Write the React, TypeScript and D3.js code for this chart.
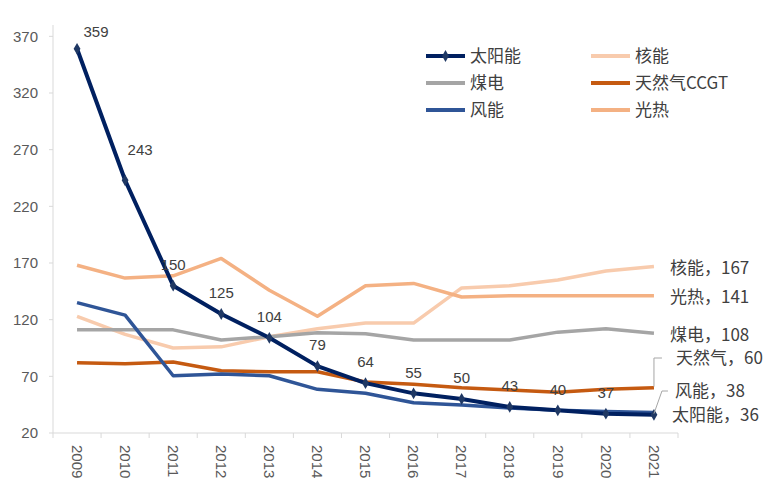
import React from "react";
import * as d3 from "d3";

const years = ["2009","2010","2011","2012","2013","2014","2015","2016","2017","2018","2019","2020","2021"];
const solar = [359, 243, 150, 125, 104, 79, 64, 55, 50, 43, 40, 37, 36];
const nuclear = [123, 107, 95, 96, 105, 112, 117, 117, 148, 150, 155, 163, 167];
const coal = [111, 111, 111, 102, 105, 108.5, 107.6, 102, 102, 102, 109, 112, 108];
const gas = [82, 81, 82.6, 75, 74, 74, 65, 63, 60, 58, 56, 58.5, 60];
const wind = [135, 124, 70.5, 72, 70.5, 58.5, 55, 46.7, 44.7, 42, 40, 39, 38];
const csp = [168, 156.7, 158.7, 174, 146, 123, 150, 152, 140, 141, 141, 141, 141];
const yTicks = [20, 70, 120, 170, 220, 270, 320, 370];

const seriesNames = ["太阳能", "核能", "煤电", "天然气CCGT", "风能", "光热"];
const endLabels = ["太阳能，36", "核能，167", "煤电，108", "天然气，60", "风能，38", "光热，141"];

const W = 783, H = 500;
const x = d3.scaleBand<string>().domain(years).range([53, 678]).padding(0);
const y = d3.scaleLinear().domain([20, 380]).range([433, 25]);
const cx = (yr: string) => (x(yr) as number) + x.bandwidth() / 2;

const series = [
  { name: seriesNames[1], data: nuclear, color: "#F8CBAD", w: 3.5 },
  { name: seriesNames[2], data: coal, color: "#A5A5A5", w: 3.5 },
  { name: seriesNames[3], data: gas, color: "#C55A11", w: 3.5 },
  { name: seriesNames[4], data: wind, color: "#2F5597", w: 3.5 },
  { name: seriesNames[5], data: csp, color: "#F4B183", w: 3.5 },
  { name: seriesNames[0], data: solar, color: "#002060", w: 4 },
];

const legendItems = [
  { name: seriesNames[0], color: "#002060", marker: true },
  { name: seriesNames[1], color: "#F8CBAD" },
  { name: seriesNames[2], color: "#A5A5A5" },
  { name: seriesNames[3], color: "#C55A11" },
  { name: seriesNames[4], color: "#2F5597" },
  { name: seriesNames[5], color: "#F4B183" },
];

const numFont = "'Liberation Sans', Arial, sans-serif";
const cjkFont = "'Noto Sans CJK SC', sans-serif";

export default function App() {
  const line = d3
    .line<number>()
    .x((_, i) => cx(years[i]))
    .y((d) => y(d));
  const last = years[years.length - 1];
  const lx = cx(last);
  const diamond = d3.symbol().type(d3.symbolDiamond).size(40)();

  const labelOffsets = solar.map((_, i) => (i === 0 ? [19, -17] : i === 1 ? [15, -31] : [0, -21]));

  return (
    <div style={{ position: "fixed", left: 0, top: 0 }}>
      <svg width={W} height={H} style={{ display: "block", background: "#fff" }}>
        {/* axes */}
        <line x1={53} x2={53} y1={25} y2={433} stroke="#D9D9D9" strokeWidth={1} />
        <line x1={53} x2={678} y1={433} y2={433} stroke="#D9D9D9" strokeWidth={1} />
        {yTicks.map((t) => (
          <g key={t}>
            <line x1={49} x2={53} y1={y(t)} y2={y(t)} stroke="#D9D9D9" />
            <text x={38} y={y(t)} dy="0.35em" textAnchor="end" fontFamily={numFont} fontSize={15} fill="#595959">
              {t}
            </text>
          </g>
        ))}
        {years.map((yr) => (
          <line key={"t" + yr} x1={x(yr) as number} x2={x(yr) as number} y1={433} y2={438} stroke="#D9D9D9" />
        ))}
        <line x1={678} x2={678} y1={433} y2={438} stroke="#D9D9D9" />
        {years.map((yr) => (
          <text
            key={"l" + yr}
            transform={`translate(${cx(yr)},445) rotate(90)`}
            dy="0.35em"
            textAnchor="start"
            fontFamily={numFont}
            fontSize={15}
            fill="#595959"
          >
            {yr}
          </text>
        ))}

        {/* lines */}
        {series.map((s) => (
          <path key={s.name} d={line(s.data) as string} fill="none" stroke={s.color} strokeWidth={s.w} strokeLinejoin="round" />
        ))}
        {solar.map((v, i) => (
          <path key={"m" + i} d={diamond as string} transform={`translate(${cx(years[i])},${y(v)})`} fill="#1F3864" />
        ))}
        {solar.map((v, i) => (
          <text
            key={"dl" + i}
            x={cx(years[i]) + labelOffsets[i][0]}
            y={y(v) + labelOffsets[i][1]}
            dy="0.35em"
            textAnchor="middle"
            fontFamily={numFont}
            fontSize={15}
            fill="#404040"
            style={{ display: i === years.length - 1 ? "none" : undefined }}
          >
            {v}
          </text>
        ))}

        {/* leader lines */}
        <polyline points={`${lx},${y(gas[12]) - 1} ${lx},${358} ${lx + 8},${358}`} fill="none" stroke="#A6A6A6" strokeWidth={1} />
        <polyline points={`${lx},${y(wind[12]) + 1} ${lx + 8},${391} ${lx + 14},${391}`} fill="none" stroke="#A6A6A6" strokeWidth={1} />

        {/* end labels */}
        {[
          { t: endLabels[1], x: 670, y: 268 },
          { t: endLabels[5], x: 670, y: 297 },
          { t: endLabels[2], x: 670, y: 335 },
          { t: endLabels[3], x: 676, y: 358 },
          { t: endLabels[4], x: 675, y: 391 },
          { t: endLabels[0], x: 672, y: 415 },
        ].map((l) => (
          <text key={l.t} x={l.x} y={l.y} dy="0.35em" fontFamily={cjkFont} fontSize={17} fill="#404040">
            {l.t}
          </text>
        ))}

        {/* legend */}
        {legendItems.map((it, i) => {
          const col = i % 2;
          const row = Math.floor(i / 2);
          const x0 = col === 0 ? 426 : 591;
          const yy = 56 + row * 27;
          return (
            <g key={"lg" + i}>
              <line x1={x0} x2={x0 + 39} y1={yy} y2={yy} stroke={it.color} strokeWidth={4} />
              {it.marker && <path d={diamond as string} transform={`translate(${x0 + 19.5},${yy})`} fill="#1F3864" />}
              <text x={x0 + 44} y={yy} dy="0.35em" fontFamily={cjkFont} fontSize={17} fill="#404040">
                {it.name}
              </text>
            </g>
          );
        })}
      </svg>
    </div>
  );
}
